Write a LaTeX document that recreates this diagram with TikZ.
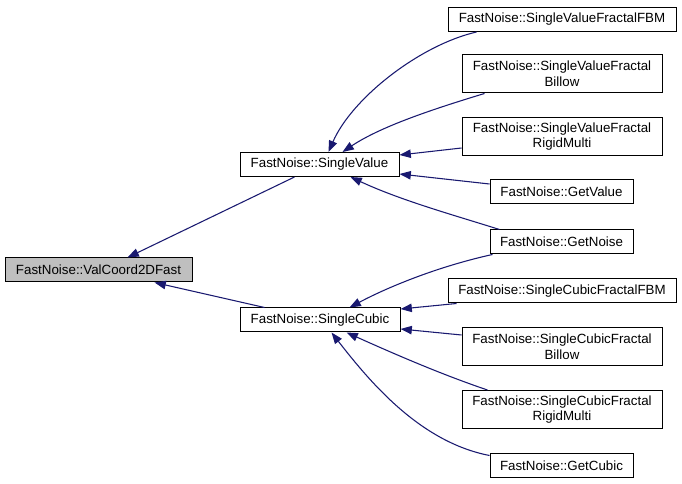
\documentclass[tikz,border=0pt]{standalone}
\usepackage{fontspec}
\setmainfont{Liberation Sans}
\usetikzlibrary{arrows.meta,calc}
\definecolor{edgeblue}{HTML}{191970}
\definecolor{hlgray}{HTML}{BFBFBF}
\begin{document}
\begin{tikzpicture}[x=0.75pt,y=-0.75pt,
  box/.style={draw=black,line width=0.75pt,fill=white,rectangle,inner sep=0pt,
    align=center,font=\fontsize{10}{11.8}\selectfont,text=black},
  one/.style={minimum height=18pt},
  two/.style={minimum height=28.5pt},
  edge/.style={draw=edgeblue,line width=0.8pt,-{Triangle[length=8.5pt,width=6.3pt]}}]
\useasboundingbox (0,0) rectangle (682,484);
\fill[white] (0,0) rectangle (682,484);
% nodes
\node[box,one,fill=hlgray,minimum width=140.25pt] (vc) at (98.5,270) {FastNoise::ValCoord2DFast};
\node[box,one,minimum width=119.25pt] (sv) at (319.5,164.5) {FastNoise::SingleValue};
\node[box,one,minimum width=120pt] (sc) at (320,320) {FastNoise::SingleCubic};
\node[box,one,minimum width=171pt] (vfbm) at (562,19.5) {FastNoise::SingleValueFractalFBM};
\node[box,two,minimum width=150pt] (vbil) at (562,74) {FastNoise::SingleValueFractal\\Billow};
\node[box,two,minimum width=150pt] (vrig) at (562,136.5) {FastNoise::SingleValueFractal\\RigidMulti};
\node[box,one,minimum width=107.25pt] (gv) at (561.5,192) {FastNoise::GetValue};
\node[box,one,minimum width=107.25pt] (gn) at (561.5,242) {FastNoise::GetNoise};
\node[box,one,minimum width=171pt] (cfbm) at (562,291) {FastNoise::SingleCubicFractalFBM};
\node[box,two,minimum width=150pt] (cbil) at (562,347) {FastNoise::SingleCubicFractal\\Billow};
\node[box,two,minimum width=150pt] (crig) at (562,409.5) {FastNoise::SingleCubicFractal\\RigidMulti};
\node[box,one,minimum width=107.25pt] (gc) at (561.5,465.5) {FastNoise::GetCubic};
% edges to SingleValue
\draw[edge] ($(vfbm.south west)+(29,0)$) .. controls (420,45) and (352,98) .. ($(sv.north west)+(89,0)$);
\draw[edge] ($(vbil.south west)+(23,0)$) .. controls (430,110) and (380,127) .. ($(sv.north west)+(103,0)$);
\draw[edge] ($(vrig.west)+(0,11.5)$) -- ($(sv.east)+(0,-9.5)$);
\draw[edge] ($(gv.west)+(0,-8)$) -- ($(sv.east)+(0,9.5)$);
\draw[edge] ($(gn.north west)+(10,0)$) .. controls (450,214) and (400,200) .. ($(sv.south west)+(111,0)$);
% edges to SingleCubic
\draw[edge] ($(gn.south west)+(3,0)$) .. controls (440,266) and (390,286) .. ($(sc.north west)+(110,0)$);
\draw[edge] ($(cfbm.south west)+(9,0)$) -- ($(sc.east)+(0,-11)$);
\draw[edge] ($(cbil.west)+(0,-12)$) -- ($(sc.east)+(0,9)$);
\draw[edge] ($(crig.north west)+(26,0)$) .. controls (440,374) and (390,352) .. ($(sc.south west)+(107,0)$);
\draw[edge] ($(gc.west)+(0,-10)$) .. controls (420,442) and (370,382) .. ($(sc.south west)+(92,0)$);
% edges to ValCoord2DFast
\draw[edge] ($(sv.south west)+(55,0)$) -- ($(vc.north west)+(123,0)$);
\draw[edge] ($(sc.north west)+(25,0)$) -- ($(vc.south west)+(150,0)$);
\end{tikzpicture}
\end{document}
